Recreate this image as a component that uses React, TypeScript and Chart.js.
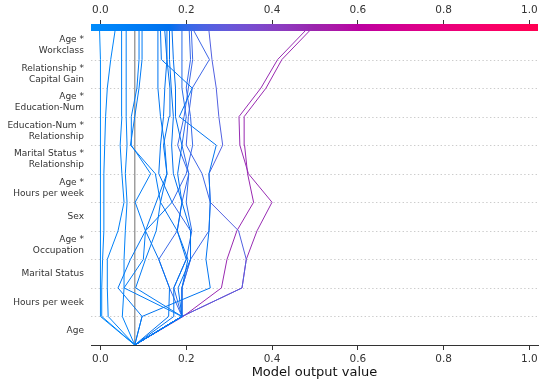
import React, { useEffect, useRef } from "react";
import { Chart, registerables } from "chart.js";

Chart.register(...registerables);

// Feature rows, bottom to top
const featureNames: string[][] = [
  ["Age"],
  ["Hours per week"],
  ["Marital Status"],
  ["Age *", "Occupation"],
  ["Sex"],
  ["Age *", "Hours per week"],
  ["Marital Status *", "Relationship"],
  ["Education-Num *", "Relationship"],
  ["Age *", "Education-Num"],
  ["Relationship *", "Capital Gain"],
  ["Age *", "Workclass"],
];

const xTicks = [0, 0.2, 0.4, 0.6, 0.8, 1.0];
const xMin = -0.022;
const xMax = 1.02;
const baseValue = 0.08;

// Cumulative model output per observation, from base (index 0) up to the top row (index 11)
const obs01 = [0.08, 0.0, 0.0, 0.0, 0.0, 0.0, 0.0, 0.0, 0.0, 0.0, 0.0, -0.002];
const obs02 = [0.08, 0.003, 0.003, 0.005, 0.008, 0.008, 0.008, 0.01, 0.012, 0.016, 0.024, 0.034];
const obs03 = [0.08, 0.018, 0.016, 0.016, 0.041, 0.055, 0.05, 0.046, 0.05, 0.05, 0.049, 0.049];
const obs04 = [0.08, 0.051, 0.055, 0.055, 0.058, 0.062, 0.058, 0.062, 0.06, 0.06, 0.06, 0.06];
const obs05 = [0.08, 0.19, 0.055, 0.1, 0.105, 0.081, 0.117, 0.072, 0.072, 0.085, 0.09, 0.09];
const obs06 = [0.08, 0.19, 0.082, 0.105, 0.13, 0.14, 0.128, 0.07, 0.08, 0.09, 0.097, 0.097];
const obs07 = [0.08, 0.097, 0.041, 0.07, 0.105, 0.13, 0.155, 0.15, 0.14, 0.134, 0.134, 0.134];
const obs08 = [0.08, 0.097, 0.256, 0.246, 0.253, 0.256, 0.253, 0.27, 0.184, 0.214, 0.142, 0.14];
const obs09 = [0.08, 0.159, 0.161, 0.136, 0.105, 0.167, 0.136, 0.14, 0.147, 0.15, 0.155, 0.15];
const obs10 = [0.08, 0.171, 0.171, 0.2, 0.179, 0.14, 0.155, 0.147, 0.16, 0.162, 0.155, 0.155];
const obs11 = [0.08, 0.19, 0.181, 0.21, 0.21, 0.19, 0.17, 0.166, 0.17, 0.165, 0.161, 0.161];
const obs12 = [0.08, 0.19, 0.19, 0.204, 0.179, 0.19, 0.18, 0.19, 0.175, 0.175, 0.17, 0.167];
const obs13 = [0.08, 0.19, 0.171, 0.2, 0.213, 0.2, 0.206, 0.19, 0.2, 0.19, 0.19, 0.19];
const obs14 = [0.08, 0.19, 0.19, 0.21, 0.21, 0.167, 0.2, 0.215, 0.21, 0.2, 0.21, 0.207];
const obs15 = [0.08, 0.19, 0.161, 0.136, 0.179, 0.19, 0.206, 0.18, 0.195, 0.205, 0.215, 0.212];
const obs16 = [0.08, 0.19, 0.19, 0.21, 0.253, 0.256, 0.237, 0.2, 0.205, 0.214, 0.254, 0.218];
const obs17 = [0.08, 0.19, 0.33, 0.34, 0.322, 0.256, 0.253, 0.285, 0.276, 0.27, 0.26, 0.253];
const obs18 = [0.08, 0.19, 0.33, 0.34, 0.365, 0.4, 0.345, 0.325, 0.323, 0.374, 0.413, 0.477];
const obs19 = [0.08, 0.193, 0.282, 0.295, 0.318, 0.357, 0.343, 0.336, 0.335, 0.386, 0.423, 0.487];

const observations = [
  obs01, obs02, obs03, obs04, obs05, obs06, obs07, obs08, obs09, obs10,
  obs11, obs12, obs13, obs14, obs15, obs16, obs17, obs18, obs19,
];

// SHAP red_blue colormap (LCH interpolation)
function labToRgb(L: number, a: number, b: number): [number, number, number] {
  const fy = (L + 16) / 116;
  const fx = fy + a / 500;
  const fz = fy - b / 200;
  const finv = (t: number) => (t > 0.206893 ? t * t * t : (t - 16 / 116) / 7.787);
  const X = 0.95047 * finv(fx);
  const Y = 1.0 * finv(fy);
  const Z = 1.08883 * finv(fz);
  const r = 3.2406 * X - 1.5372 * Y - 0.4986 * Z;
  const g = -0.9689 * X + 1.8758 * Y + 0.0415 * Z;
  const bb = 0.0557 * X - 0.204 * Y + 1.057 * Z;
  const gam = (c: number) => {
    const v = c > 0.0031308 ? 1.055 * Math.pow(c, 1 / 2.4) - 0.055 : 12.92 * c;
    return Math.round(Math.min(1, Math.max(0, v)) * 255);
  };
  return [gam(r), gam(g), gam(bb)];
}

function cmap(t: number): string {
  const tt = Math.min(1, Math.max(0, t));
  const L = tt < 0.5 ? 54 + (40 - 54) * (tt / 0.5) : 40 + (54 - 40) * ((tt - 0.5) / 0.5);
  const C = 70 + (90 - 70) * tt;
  const H = 4.6588 + (0.35470565 + 2 * Math.PI - 4.6588) * tt;
  const [r, g, b] = labToRgb(L, C * Math.cos(H), C * Math.sin(H));
  return `rgb(${r},${g},${b})`;
}

const norm = (v: number) => (v - xMin) / (xMax - xMin);

const decorPlugin = {
  id: "decor",
  beforeDatasetsDraw(chart: any) {
    const { ctx, chartArea, scales } = chart;
    ctx.save();
    ctx.strokeStyle = "#cccccc";
    ctx.lineWidth = 1;
    ctx.setLineDash([1.4, 2.4]);
    for (let k = 1; k <= 10; k++) {
      const y = Math.round(scales.y.getPixelForValue(k)) + 0.5;
      ctx.beginPath();
      ctx.moveTo(chartArea.left, y);
      ctx.lineTo(chartArea.right, y);
      ctx.stroke();
    }
    ctx.restore();
  },
  afterDraw(chart: any) {
    const { ctx, chartArea } = chart;
    ctx.save();
    const g = ctx.createLinearGradient(chartArea.left, 0, chartArea.right, 0);
    for (let i = 0; i <= 40; i++) g.addColorStop(i / 40, cmap(i / 40));
    ctx.fillStyle = g;
    ctx.fillRect(chartArea.left, chartArea.top - 7, chartArea.right - chartArea.left, 7);
    ctx.restore();
  },
};

export default function App() {
  const ref = useRef<HTMLCanvasElement | null>(null);
  useEffect(() => {
    if (!ref.current) return;
    const datasets: any[] = observations.map((vals) => ({
      data: vals.map((v, k) => ({ x: v, y: k })),
      borderColor: cmap(norm(vals[vals.length - 1])),
      borderWidth: 1,
      pointRadius: 0,
      tension: 0,
      fill: false,
      order: 0,
    }));
    datasets.push({
      data: [
        { x: baseValue, y: 0 },
        { x: baseValue, y: featureNames.length },
      ],
      borderColor: "#999999",
      borderWidth: 1.4,
      pointRadius: 0,
      fill: false,
      order: 10,
    });
    const tickFont = { family: "DejaVu Sans", size: 10.5 };
    const chart = new Chart(ref.current, {
      type: "line",
      data: { datasets },
      options: {
        animation: false,
        responsive: false,
        devicePixelRatio: 1,
        layout: { padding: { left: 0, right: 6, top: 0, bottom: 2 } },
        plugins: { legend: { display: false }, tooltip: { enabled: false } },
        scales: {
          x: {
            type: "linear",
            position: "bottom",
            min: xMin,
            max: xMax,
            afterBuildTicks: (s: any) => {
              s.ticks = xTicks.map((v) => ({ value: v }));
            },
            ticks: {
              callback: (v: any) => Number(v).toFixed(1),
              font: tickFont,
              color: "#333333",
              padding: 3,
              maxRotation: 0,
              autoSkip: false,
            },
            grid: { drawOnChartArea: false, tickLength: 5, color: "#333333" },
            border: { color: "#333333", width: 1 },
            title: {
              display: true,
              text: "Model output value",
              font: { family: "DejaVu Sans", size: 13 },
              color: "#111111",
              padding: { top: 4, bottom: 4 },
            },
            afterFit: (s: any) => {
              s.height = 39;
            },
          },
          x2: {
            type: "linear",
            position: "top",
            min: xMin,
            max: xMax,
            afterBuildTicks: (s: any) => {
              s.ticks = xTicks.map((v) => ({ value: v }));
            },
            ticks: {
              callback: (v: any) => Number(v).toFixed(1),
              font: tickFont,
              color: "#333333",
              padding: 3,
              maxRotation: 0,
              autoSkip: false,
            },
            grid: { drawOnChartArea: false, tickLength: 11, color: "#333333" },
            border: { display: false },
            afterFit: (s: any) => {
              s.height = 31;
            },
          },
          y: {
            type: "linear",
            min: 0,
            max: featureNames.length,
            afterBuildTicks: (s: any) => {
              s.ticks = featureNames.map((_, i) => ({ value: i + 0.5 }));
            },
            ticks: {
              callback: (_v: any, i: number) => featureNames[i],
              font: { family: "DejaVu Sans", size: 9 },
              color: "#333333",
              padding: 7,
              autoSkip: false,
            },
            grid: { display: false, drawTicks: false },
            border: { display: false },
            afterFit: (s: any) => {
              s.width = 91;
            },
          },
        },
      } as any,
      plugins: [decorPlugin],
    });
    return () => chart.destroy();
  }, []);

  return (
    <div style={{ position: "fixed", left: 0, top: 0, width: 544, height: 386, background: "#fff" }}>
      <canvas ref={ref} width={544} height={386} style={{ width: 544, height: 386 }} />
    </div>
  );
}
